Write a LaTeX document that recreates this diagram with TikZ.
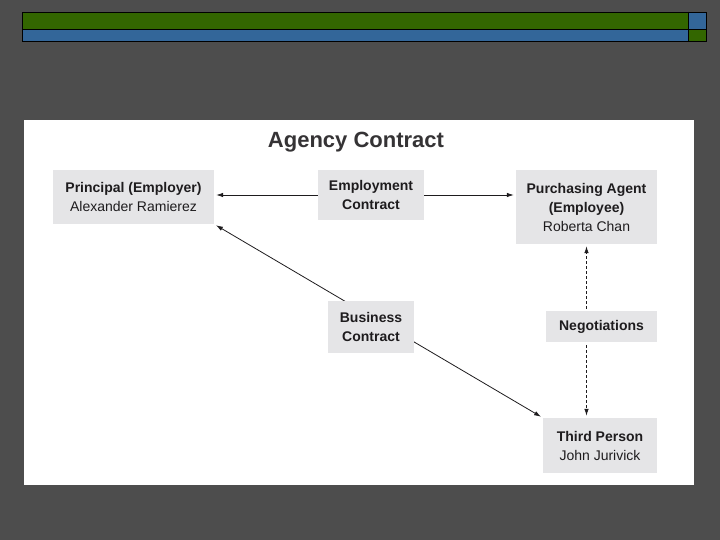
\documentclass[tikz,border=0pt]{standalone}
\usepackage{fontspec}
\setmainfont{Liberation Sans}
\usetikzlibrary{calc,arrows.meta}
\definecolor{slidegray}{RGB}{77,77,77}
\definecolor{bargreen}{RGB}{51,102,0}
\definecolor{barblue}{RGB}{51,102,153}
\definecolor{boxgray}{RGB}{229,229,231}
\definecolor{inkgray}{RGB}{30,28,30}
\tikzset{
  partybox/.style={fill=boxgray, align=center, inner sep=0pt, text=inkgray,
    font=\fontsize{14}{19}\selectfont},
  tip/.style={-{Latex[length=7pt,width=4.5pt]}, line width=0.8pt, inkgray, shorten >=2pt},
}

\begin{document}
\begin{tikzpicture}[x=1pt,y=-1pt]
    % Slide background
    \fill[slidegray] (0,0) rectangle (720,540);
    \useasboundingbox (0,0) rectangle (720,540);
    % Top bars
    \fill[bargreen] (22,12) rectangle (688,29);
    \fill[barblue]  (688,12) rectangle (706,29);
    \fill[barblue]  (22,29) rectangle (688,41);
    \fill[bargreen] (688,29) rectangle (706,41);
    \draw[thick] (22,12) rectangle (706,41);
    \draw[thick] (22,29) -- (706,29);
    \draw[thick] (688,12) -- (688,41);
    % White panel
    \fill[white] (24,120) rectangle (694,485);
    % Title
    \node[text=inkgray!90, font=\fontsize{22}{26}\selectfont\bfseries] (title) at (356,142) {Agency Contract};
    % Parties and contracts
    \node[partybox, minimum width=161pt, minimum height=54pt] (principal) at (133.5,197)
      {\textbf{Principal (Employer)}\\Alexander Ramierez};
    \node[partybox, minimum width=106pt, minimum height=50pt] (employment) at (371,195)
      {\textbf{Employment}\\\textbf{Contract}};
    \node[partybox, minimum width=141pt, minimum height=74pt] (agent) at (586.5,207)
      {\textbf{Purchasing Agent}\\\textbf{(Employee)}\\Roberta Chan};
    \node[partybox, minimum width=114pt, minimum height=55pt] (third) at (600,445.5)
      {\textbf{Third Person}\\John Jurivick};
    % Business contract line (behind its box)
    \draw[{Latex[length=7pt,width=4.5pt]}-{Latex[length=7pt,width=4.5pt]}, line width=0.8pt, inkgray,
      shorten >=2pt, shorten <=2pt] (principal.south east) -- (third.north west);
    \node[partybox, minimum width=86pt, minimum height=52pt] (business) at (371,327)
      {\textbf{Business}\\\textbf{Contract}};
    \node[partybox, minimum width=111pt, minimum height=31pt] (negotiations) at (601.5,326.5)
      {\textbf{Negotiations}};
    % Arrows
    \draw[tip] (employment.west) -- (employment.west -| principal.east);
    \draw[tip] (employment.east) -- (employment.east -| agent.west);
    \draw[tip, dash pattern=on 3pt off 2pt] ($(negotiations.north -| agent.south)+(0,-2)$) -- (agent.south);
    \draw[tip, dash pattern=on 3pt off 2pt] ($(negotiations.south -| agent.south)+(0,3)$) -- (third.north -| agent.south);
\end{tikzpicture}
\end{document}
